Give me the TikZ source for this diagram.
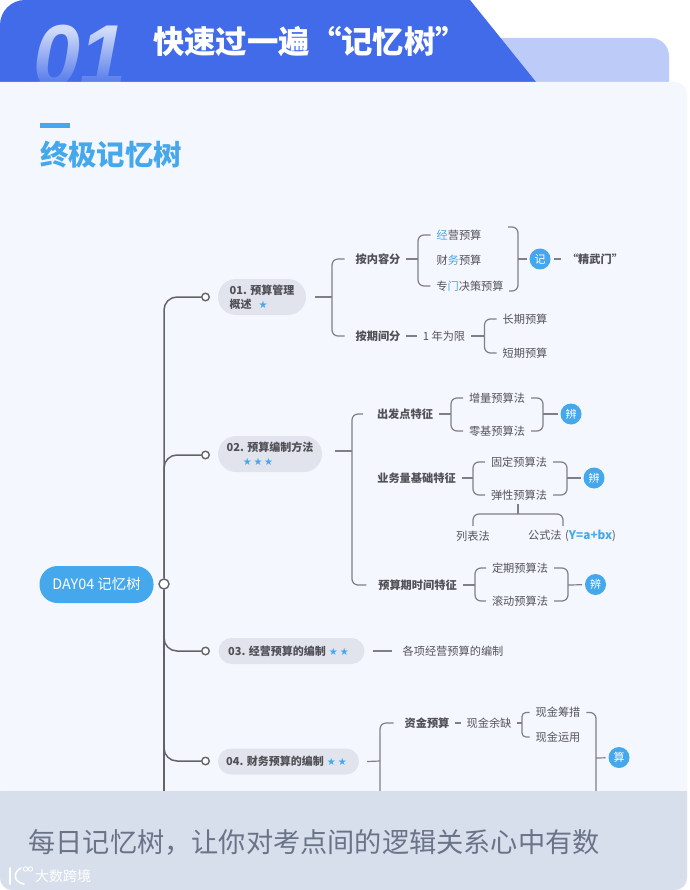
\documentclass[tikz,border=0pt]{standalone}
\usepackage{xcolor}
\usepackage{fontspec}
\setmainfont{Noto Sans CJK SC}
\newfontfamily\symfont{DejaVu Sans}
\newfontfamily\digitfont{Liberation Sans}
\usetikzlibrary{fadings}
\definecolor{tabblue}{RGB}{65,107,232}
\definecolor{tabpale}{RGB}{188,203,248}
\definecolor{panelbg}{RGB}{244,247,254}
\definecolor{bandbg}{RGB}{216,223,236}
\definecolor{skyblue}{RGB}{69,168,236}
\definecolor{pillbg}{RGB}{225,228,236}
\definecolor{linegray}{RGB}{128,128,132}
\definecolor{trunkgray}{RGB}{100,100,104}
\definecolor{inkdark}{RGB}{80,80,86}
\definecolor{inkleaf}{RGB}{84,84,90}
\definecolor{bandink}{RGB}{106,116,136}
\newcommand{\hl}[1]{{\color{skyblue}#1}}
\newcommand{\stars}[1]{{\symfont\fontsize{10}{10}\selectfont\color{skyblue}#1}}
\tikzset{
  link/.style={linegray,line width=1.2pt,rounded corners=6},
  trunk/.style={trunkgray,line width=1.5pt,rounded corners=13},
  knob/.style={circle,draw=trunkgray,fill=white,line width=1.4pt,inner sep=0pt,minimum size=7.5pt},
  pill/.style={fill=pillbg,rounded corners=13,inner sep=0pt,text=inkdark,font=\fontsize{11}{14}\selectfont\bfseries,align=left},
  lab/.style={inner sep=0pt,outer xsep=6pt,text=inkdark,font=\fontsize{11.2}{14}\selectfont\bfseries},
  leaf/.style={inner sep=0pt,outer xsep=6pt,text=inkleaf,font=\fontsize{11.2}{14}\selectfont},
  badge/.style={circle,fill=skyblue,text=white,inner sep=0pt,outer sep=3pt,minimum size=21pt,font=\fontsize{11}{13}\selectfont}
}
\begin{document}
\begin{tikzpicture}[x=1pt,y=-1pt]
  \useasboundingbox (0,0) rectangle (689,890);
  \fill[white] (0,0) rectangle (689,890);
  % header tabs
  \fill[tabpale,rounded corners=18] (480,38) -- (669,38) -- (669,100) -- (480,100) -- cycle;
  \fill[tabblue] (0,100) [rounded corners=25] -- (0,0) [sharp corners] -- (470,0) -- (550.5,100) -- cycle;
  \node[inner sep=0pt,text=tabpale!70!white,font=\digitfont\fontsize{88}{88}\selectfont\bfseries\itshape,xscale=.96] (num) at (80,56) {01};
  \fill[tabblue,path fading=north] (28,30) rectangle (135,92);
  \node[inner sep=0pt,text=white,font=\fontsize{31.4}{36}\selectfont\bfseries] (title) at (310,42) {快速过一遍“记忆树”};
  % panel and its heading
  \fill[panelbg] (0,82) [rounded corners=12] -- (687,82) -- (687,800) -- (0,800) [sharp corners] -- cycle;
  \fill[skyblue] (40,123) rectangle (70,128);
  \node[inner sep=0pt,text=skyblue,font=\fontsize{28.4}{32}\selectfont\bfseries] (head) at (111,155) {终极记忆树};
  % trunk
  \node[fill=skyblue,rounded corners=18,minimum width=114pt,minimum height=37pt,inner sep=0pt,text=white,font=\fontsize{14.4}{16}\selectfont] (root) at (96.5,584.5) {DAY04 记忆树};
  \node[knob,minimum size=10pt] (c0) at (164,584) {};
  \node[knob] (c1) at (205.5,297) {};
  \node[knob] (c2) at (205.5,455) {};
  \node[knob] (c3) at (205.5,651) {};
  \node[knob] (c4) at (205.5,761) {};
  \coordinate (trunkend) at (164,795);
  \draw[trunk] (c1) -| (c0);
  \draw[trunk] (c2) -| (c0);
  \draw[trunk] (c3) -| (c0);
  \draw[trunk] (c4) -| (c0);
  \draw[trunk] (c0) -- (trunkend);
  % main topics
  \node[pill,minimum width=88pt,minimum height=36pt,rounded corners=18] (p1) at (262,297) {01. 预算管理\\概述\hspace{7pt}\stars{★}};
  \node[pill,minimum width=104pt,minimum height=36pt,rounded corners=18,align=center] (p2) at (270,454) {02. 预算编制方法\\\hspace*{-24pt}\stars{★\hspace{1.6pt}★\hspace{1.6pt}★}};
  \node[pill,minimum width=146pt,minimum height=26pt] (p3) at (291.5,651) {03. 经营预算的编制\hspace{3pt}\stars{★\hspace{2pt}★}\hspace{6pt}};
  \node[pill,minimum width=141pt,minimum height=26pt] (p4) at (288.5,761.5) {04. 财务预算的编制\hspace{3pt}\stars{★\hspace{2pt}★}\hspace{4pt}};
  % 01
  \coordinate (j1) at (332,297);
  \node[lab] (nr) at (378,259) {按内容分};
  \node[lab] (qj) at (378,336) {按期间分};
  \draw[link] ([xshift=9pt]p1.east) -- (j1);
  \draw[link] ([xshift=-5pt]nr.west) -| (j1) |- ([xshift=-5pt]qj.west);
  \coordinate (j2) at (418,259);
  \node[leaf] (jy) at (459,235) {\hl{经}营预算};
  \node[leaf] (cw) at (459,260) {财\hl{务}预算};
  \node[leaf] (zm) at (470,286) {专\hl{门}决策预算};
  \draw[link] (nr) -- (j2);
  \draw[link] (jy.west) -| (j2) |- (zm.west);
  \coordinate (r1t) at (508,227);
  \coordinate (r1b) at (509,291);
  \coordinate (r1) at (518,259);
  \node[badge] (ji) at (540,259) {记};
  \node[lab] (jw) at (595,259) {“精武门”};
  \draw[link] (r1t) -| (r1) |- (r1b);
  \draw[link] (r1) -- (ji);
  \draw[link] (ji) -- (jw);
  \node[leaf] (yn) at (444,336) {1 年为限};
  \coordinate (j3) at (484.5,336);
  \node[leaf] (cq) at (525,319) {长期预算};
  \node[leaf] (dq) at (525,353) {短期预算};
  \draw[link] (qj) -- (yn);
  \draw[link] (yn) -- (j3);
  \draw[link] (cq.west) -| (j3) |- (dq.west);
  % 02
  \coordinate (j4) at (352,451);
  \node[lab] (cf) at (405,414) {出发点特征};
  \node[lab] (yw) at (416.5,478) {业务量基础特征};
  \node[lab] (ys) at (417.5,585) {预算期时间特征};
  \draw[link] ([xshift=13pt]p2.east |- j4) -- (j4);
  \draw[link] ([xshift=-8pt]cf.west) -| (j4) |- ([xshift=-6pt]ys.west);
  \coordinate (j5) at (451,414);
  \node[leaf] (zl) at (497,398) {增量预算法};
  \node[leaf] (lj) at (497,431) {零基预算法};
  \coordinate (r5) at (543,414);
  \node[badge] (b5) at (571,414) {辨};
  \draw[link] (cf) -- (j5);
  \draw[link] (zl.west) -| (j5) |- (lj.west);
  \draw[link] (zl.east) -| (r5) |- (lj.east);
  \draw[link] (r5) -- (b5);
  \coordinate (j6) at (473,478);
  \node[leaf] (gd) at (519,462) {固定预算法};
  \node[leaf] (tx) at (519,495) {弹性预算法};
  \coordinate (r6) at (567,478);
  \node[badge] (b6) at (594,478) {辨};
  \draw[link] (yw) -- (j6);
  \draw[link] (gd.west) -| (j6) |- (tx.west);
  \draw[link] (gd.east) -| (r6) |- (tx.east);
  \draw[link] (r6) -- (b6);
  \coordinate (j7) at (518,514);
  \node[leaf] (lb) at (473,536) {列表法};
  \node[leaf] (gs) at (572,536) {公式法\hspace{1pt} (\hl{\bfseries\fontsize{11.8}{14}\selectfont Y=a+bx})};
  \coordinate (lbtop) at (473,526);
  \coordinate (gstop) at (563,526);
  \draw[link] (lbtop) |- (j7) -| (gstop);
  \draw[link] (j7) -- ++(0,-10);
  \coordinate (j8) at (475,585);
  \node[leaf] (dq2) at (520,568) {定期预算法};
  \node[leaf] (gd2) at (520,601) {滚动预算法};
  \coordinate (r8) at (568,585);
  \node[badge] (b8) at (595.5,584.5) {辨};
  \draw[link] (ys) -- (j8);
  \draw[link] (dq2.west) -| (j8) |- (gd2.west);
  \draw[link] (dq2.east) -| (r8) |- (gd2.east);
  \draw[link] (r8) -- (b8);
  % 03
  \node[leaf] (gx) at (453,651) {各项经营预算的编制};
  \draw[link] ([xshift=8pt]p3.east) -- ([xshift=-5pt]gx.west);
  % 04
  \coordinate (j9) at (380,761);
  \coordinate (j9end) at (380,795);
  \node[lab] (zj) at (427,723) {资金预算};
  \draw[link] ([xshift=8pt]p4.east) -- (j9);
  \draw[link] ([xshift=-5pt]zj.west) -| (j9end);
  \node[leaf] (ye) at (489,723) {现金余缺};
  \draw[link] (zj) -- (ye);
  \coordinate (j10) at (522,723);
  \node[leaf] (cc) at (558,712.5) {现金筹措};
  \node[leaf] (yy) at (558,737) {现金运用};
  \draw[link,rounded corners=4] (ye) -- (j10);
  \draw[link,rounded corners=4] (cc.west) -| (j10) |- (yy.west);
  \coordinate (r10) at (596,758);
  \coordinate (r10end) at (596,795);
  \node[badge] (b10) at (619,757.5) {算};
  \draw[link] (cc.east) -| (r10end);
  \draw[link] (r10) -- (b10);
  % footer band
  \fill[bandbg] (0,791) -- (687,791) [rounded corners=12] -- (687,890) -- (0,890) [sharp corners] -- cycle;
  \node[inner sep=0pt,text=bandink,font=\fontsize{27.2}{30}\selectfont] (slogan) at (314,842) {每日记忆树，让你对考点间的逻辑关系心中有数};
  % watermark
  \draw[white,line width=1.6pt,line cap=round] (10,868) -- (10,884) (21,868) .. controls (13,872) and (13,882) .. (24,884);
  \draw[white,line width=.8pt] (25.5,869) circle (2.2) (30.5,869) circle (2.2);
  \node[inner sep=0pt,text=white,font=\fontsize{14}{16}\selectfont] (mark) at (63,876) {大数跨境};
\end{tikzpicture}
\end{document}
